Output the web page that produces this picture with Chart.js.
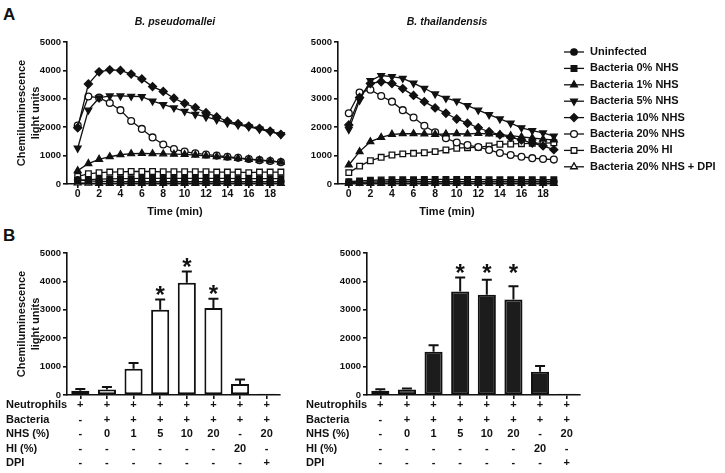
<!DOCTYPE html>
<html>
<head>
<meta charset="utf-8">
<script src="https://cdn.jsdelivr.net/npm/chart.js@4.4.1/dist/chart.umd.min.js"></script>
<style>
  html, body { margin: 0; padding: 0; background: #fff; overflow: hidden; }
  body { width: 725px; height: 473px; position: relative; font-family: 'Liberation Sans', Arial, sans-serif; }
  canvas { position: absolute; }
  .panel { position: absolute; font-weight: bold; font-size: 17px; line-height: 17px; color: #111; }
</style>
</head>
<body>
<div class="panel" style="left:3px;top:6px">A</div>
<div class="panel" style="left:3px;top:227px">B</div>
<canvas id="lineLeft" width="290" height="219" style="left:0;top:0"></canvas>
<canvas id="lineRight" width="435" height="219" style="left:290px;top:0"></canvas>
<canvas id="barLeft" width="290" height="233" style="left:0;top:240px"></canvas>
<canvas id="barRight" width="300" height="233" style="left:290px;top:240px"></canvas>
<script>
// time course, minutes
const timeMin = [0, 1, 2, 3, 4, 5, 6, 7, 8, 9, 10, 11, 12, 13, 14, 15, 16, 17, 18, 19];
const timeTicks = [0, 2, 4, 6, 8, 10, 12, 14, 16, 18];
const lightTicks = [0, 1000, 2000, 3000, 4000, 5000];

const seriesNames = ['Uninfected', 'Bacteria 0% NHS', 'Bacteria 1% NHS', 'Bacteria 5% NHS',
  'Bacteria 10% NHS', 'Bacteria 20% NHS', 'Bacteria 20% HI', 'Bacteria 20% NHS + DPI'];

// B. pseudomallei
const psUninfected = [150, 110, 90, 90, 80, 80, 80, 80, 80, 80, 80, 80, 80, 80, 80, 80, 80, 80, 80, 80];
const ps0 = [120, 150, 170, 180, 190, 190, 200, 200, 200, 200, 200, 200, 200, 200, 200, 190, 190, 190, 190, 190];
const ps1 = [470, 720, 870, 960, 1030, 1070, 1080, 1070, 1060, 1050, 1040, 1020, 990, 960, 930, 900, 870, 840, 810, 770];
const ps5 = [1260, 2600, 3030, 3100, 3100, 3090, 3080, 2920, 2800, 2680, 2560, 2450, 2360, 2260, 2150, 2080, 2010, 1930, 1840, 1740];
const ps10 = [1980, 3520, 3950, 4020, 4000, 3870, 3700, 3430, 3260, 3020, 2840, 2690, 2510, 2360, 2210, 2120, 2040, 1960, 1860, 1750];
const ps20 = [2060, 3080, 3040, 2850, 2600, 2220, 1940, 1640, 1390, 1230, 1140, 1080, 1040, 1000, 960, 920, 880, 840, 810, 770];
const psHI = [270, 360, 400, 420, 430, 440, 440, 440, 430, 430, 430, 430, 430, 420, 420, 420, 400, 420, 420, 420];
const psDPI = [40, 30, 20, 20, 20, 20, 20, 20, 20, 20, 20, 20, 20, 20, 20, 20, 20, 20, 20, 20];

// B. thailandensis
const btUninfected = [60, 60, 70, 70, 80, 80, 80, 80, 80, 80, 80, 80, 80, 80, 80, 80, 80, 80, 80, 80];
const bt0 = [80, 110, 130, 140, 150, 150, 150, 160, 160, 160, 160, 160, 160, 150, 150, 150, 150, 150, 150, 150];
const bt1 = [670, 1140, 1490, 1640, 1750, 1770, 1770, 1760, 1750, 1760, 1770, 1760, 1780, 1760, 1740, 1700, 1660, 1620, 1580, 1550];
const bt5 = [1920, 2950, 3640, 3820, 3780, 3720, 3550, 3370, 3170, 3020, 2920, 2760, 2600, 2440, 2290, 2140, 1980, 1880, 1800, 1690];
const bt10 = [2080, 3050, 3540, 3600, 3540, 3360, 3120, 2900, 2680, 2490, 2290, 2140, 1980, 1840, 1730, 1640, 1550, 1440, 1340, 1210];
const bt20 = [2490, 3220, 3320, 3100, 2900, 2600, 2340, 2050, 1820, 1610, 1460, 1370, 1300, 1200, 1090, 1020, 960, 910, 880, 860];
const btHI = [400, 630, 820, 940, 1020, 1060, 1080, 1100, 1140, 1200, 1260, 1280, 1290, 1340, 1400, 1410, 1420, 1430, 1440, 1450];
const btDPI = [20, 20, 20, 20, 20, 20, 20, 20, 20, 20, 20, 20, 20, 20, 20, 20, 20, 20, 20, 20];

// panel B conditions (x-axis table)
const rowNames = ['Neutrophils', 'Bacteria', 'NHS (%)', 'HI (%)', 'DPI'];
const neutrophilsRow = ['+', '+', '+', '+', '+', '+', '+', '+'];
const bacteriaRow = ['-', '+', '+', '+', '+', '+', '+', '+'];
const nhsRow = ['-', '0', '1', '5', '10', '20', '-', '20'];
const hiRow = ['-', '-', '-', '-', '-', '-', '20', '-'];
const dpiRow = ['-', '-', '-', '-', '-', '-', '-', '+'];

const psBars = [150, 190, 920, 3000, 3950, 3060, 390, 40];
const psErr = [60, 90, 210, 360, 400, 330, 160, 0];
const btBars = [150, 190, 1520, 3640, 3530, 3365, 820, 40];
const btErr = [50, 40, 235, 500, 530, 460, 200, 0];
const starMarks = ['', '', '', '*', '*', '*', '', ''];

const ink = '#111';
const fontFamily = "'Liberation Sans', Arial, sans-serif";
Chart.defaults.font.family = fontFamily;
Chart.defaults.font.weight = 'bold';
Chart.defaults.color = ink;

const lineStyles = [
  { style: 'circle', open: false, r: 3.2 },
  { style: 'rect', open: false, r: 4.0 },
  { style: 'triangle', open: false, r: 3.9 },
  { style: 'triangle', rot: 180, open: false, r: 3.9 },
  { style: 'rectRot', open: false, r: 4.0 },
  { style: 'circle', open: true, r: 3.4 },
  { style: 'rect', open: true, r: 4.0 },
  { style: 'triangle', open: true, r: 3.9 }
];

const yTitle = ['Chemiluminescence', 'light units'];

function yAxis(width, withTitle) {
  return {
    min: 0, max: 5000,
    afterBuildTicks: s => { s.ticks = lightTicks.map(v => ({ value: v })); },
    afterFit: s => { s.width = width; },
    grid: { drawOnChartArea: false, tickLength: 4, color: ink, lineWidth: 1.6 },
    border: { color: ink, width: 1.6 },
    ticks: { font: { size: 9.5 }, padding: 2, callback: v => String(v) },
    title: { display: withTitle, text: yTitle, font: { size: 11, lineHeight: 1.273 }, padding: { top: 15, bottom: 0 } }
  };
}

// legend drawn as "line + marker + text" to the right of the plot
const seriesKey = {
  id: 'seriesKey',
  afterDraw(chart, args, opts) {
    const ctx = chart.ctx;
    const x0 = chart.chartArea.right + opts.dx;
    ctx.save();
    chart.data.datasets.forEach((ds, i) => {
      const y = chart.chartArea.top + opts.dy + i * opts.rowGap;
      ctx.strokeStyle = ink;
      ctx.lineWidth = ds.borderWidth;
      ctx.beginPath();
      ctx.moveTo(x0, y);
      ctx.lineTo(x0 + opts.lineLen, y);
      ctx.stroke();
      ctx.fillStyle = ds.pointBackgroundColor;
      ctx.lineWidth = ds.pointBorderWidth;
      Chart.helpers.drawPoint(ctx, {
        pointStyle: ds.pointStyle, rotation: ds.pointRotation,
        radius: ds.pointRadius, borderWidth: ds.pointBorderWidth
      }, x0 + opts.lineLen / 2, y);
      ctx.fillStyle = ink;
      ctx.font = 'bold 11px ' + fontFamily;
      ctx.textBaseline = 'middle';
      ctx.textAlign = 'left';
      ctx.fillText(ds.label, x0 + opts.lineLen + opts.gap, y);
    });
    ctx.restore();
  }
};

function timeCourse(id, title, series, padRight, yWidth, withTitle, withKey) {
  return new Chart(document.getElementById(id), {
    type: 'line',
    data: {
      datasets: series.map((vals, k) => {
        const st = lineStyles[k];
        return {
          label: seriesNames[k],
          data: timeMin.map((t, i) => ({ x: t, y: vals[i] })),
          borderColor: ink, borderWidth: 1.3,
          pointStyle: st.style, pointRotation: st.rot || 0, pointRadius: st.r,
          pointBackgroundColor: st.open ? '#fff' : ink, pointBorderColor: ink, pointBorderWidth: 1.3,
          tension: 0, fill: false, clip: false
        };
      })
    },
    options: {
      responsive: false, animation: false,
      layout: { padding: { top: 0, right: padRight, bottom: 0, left: 0 } },
      plugins: {
        legend: { display: false },
        tooltip: { enabled: false },
        title: {
          display: true, text: title, fullSize: false, color: ink,
          font: { size: 10.5, style: 'italic', weight: 'bold' },
          padding: { top: 15.7, bottom: 13.7 }
        },
        seriesKey: { dx: 8, dy: 10, rowGap: 16.4, lineLen: 20, gap: 6 }
      },
      scales: {
        x: {
          type: 'linear', min: -1, max: 19.2,
          afterBuildTicks: s => { s.ticks = timeTicks.map(v => ({ value: v })); },
          afterFit: s => { s.height = 35; },
          grid: { drawOnChartArea: false, tickLength: 4, color: ink, lineWidth: 1.6 },
          border: { color: ink, width: 1.6 },
          ticks: { font: { size: 10.5 }, padding: 0, maxRotation: 0, autoSkip: false },
          title: { display: true, text: 'Time (min)', font: { size: 11 }, padding: 0 }
        },
        y: yAxis(yWidth, withTitle)
      }
    },
    plugins: withKey ? [seriesKey] : []
  });
}

// error caps, significance stars and the row names of the condition table
const barExtras = {
  id: 'barExtras',
  afterDatasetsDraw(chart, args, opts) {
    const ctx = chart.ctx;
    const ys = chart.scales.y, xs = chart.scales.x;
    const ds = chart.data.datasets[0];
    const meta = chart.getDatasetMeta(0);
    const tops = meta.data.map((bar, i) => ys.getPixelForValue(ds.data[i] + (ds.errors[i] || 0)));
    ctx.save();
    ctx.strokeStyle = ink;
    ctx.lineWidth = 2;
    meta.data.forEach((bar, i) => {
      if (!ds.errors[i]) return;
      ctx.beginPath();
      ctx.moveTo(bar.x, bar.y);
      ctx.lineTo(bar.x, tops[i]);
      ctx.moveTo(bar.x - 5, tops[i]);
      ctx.lineTo(bar.x + 5, tops[i]);
      ctx.stroke();
    });
    const starred = ds.stars.map((s, i) => (s ? i : -1)).filter(i => i >= 0);
    const shared = Math.min(...starred.map(i => tops[i]));
    const starSize = 24;
    ctx.fillStyle = ink;
    ctx.font = 'bold ' + starSize + 'px ' + fontFamily;
    ctx.textAlign = 'center';
    ctx.textBaseline = 'alphabetic';
    starred.forEach(i => {
      const cy = (opts.starMode === 'shared' ? shared : tops[i]) - 10;
      ctx.fillText(ds.stars[i], meta.data[i].x, cy + 0.555 * starSize);
    });
    ctx.font = 'bold 11px ' + fontFamily;
    ctx.textAlign = 'left';
    ctx.textBaseline = 'middle';
    const lh = 14.5;
    const y0 = xs.top + 4 - 1 + lh / 2;
    rowNames.forEach((name, r) => {
      ctx.fillText(name, chart.chartArea.left + opts.rowNameDx, y0 + r * lh);
    });
    ctx.restore();
  }
};

const conditionLabels = neutrophilsRow.map((n, i) => [n, bacteriaRow[i], nhsRow[i], hiRow[i], dpiRow[i]]);

function barPanel(id, values, errs, fill, yWidth, withTitle, starMode) {
  return new Chart(document.getElementById(id), {
    type: 'bar',
    data: {
      labels: conditionLabels,
      datasets: [{
        data: values, errors: errs, stars: starMarks,
        backgroundColor: fill, borderColor: ink, borderWidth: 2, borderSkipped: false,
        barPercentage: 0.68, categoryPercentage: 1
      }]
    },
    options: {
      responsive: false, animation: false,
      layout: { padding: { top: 13, right: 10, bottom: 0, left: 0 } },
      plugins: {
        legend: { display: false },
        tooltip: { enabled: false },
        barExtras: { starMode: starMode, rowNameDx: -61 }
      },
      scales: {
        x: {
          offset: true,
          afterFit: s => { s.height = 78; },
          grid: { offset: false, drawOnChartArea: false, tickLength: 4, color: ink, lineWidth: 1.6 },
          border: { color: ink, width: 1.6 },
          ticks: { font: { size: 11, lineHeight: 1.318 }, padding: -1, maxRotation: 0, autoSkip: false }
        },
        y: yAxis(yWidth, withTitle)
      }
    },
    plugins: [barExtras]
  });
}

timeCourse('lineLeft', 'B. pseudomallei',
  [psUninfected, ps0, ps1, ps5, ps10, ps20, psHI, psDPI], 7, 67, true, false);
timeCourse('lineRight', 'B. thailandensis',
  [btUninfected, bt0, bt1, bt5, bt10, bt20, btHI, btDPI], 169, 48, false, true);
barPanel('barLeft', psBars, psErr, '#fff', 67, true, 'own');
barPanel('barRight', btBars, btErr, '#1c1c1c', 77, false, 'shared');
</script>
</body>
</html>
